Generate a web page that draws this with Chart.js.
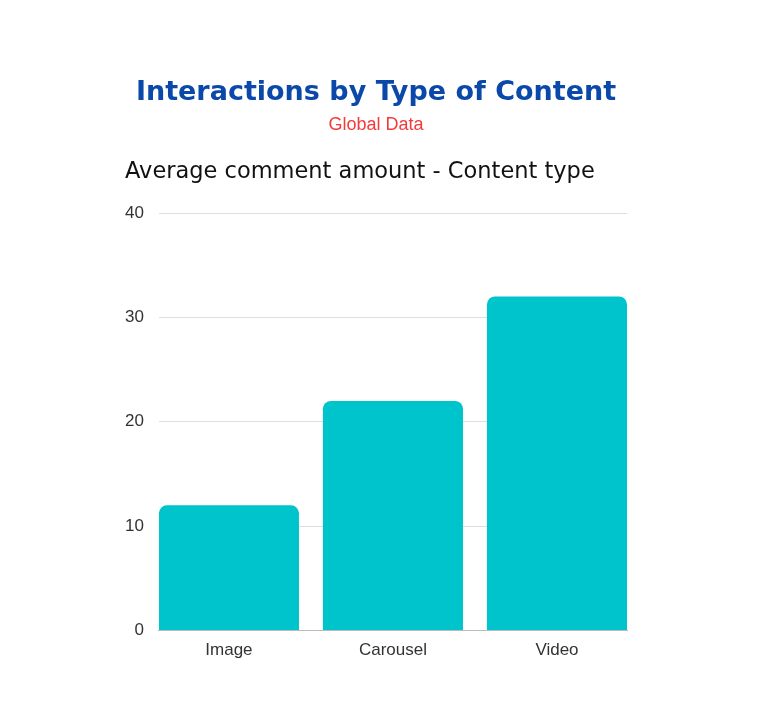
<!DOCTYPE html>
<html>
<head>
<meta charset="utf-8">
<script src="https://cdn.jsdelivr.net/npm/chart.js@4"></script>
<style>
  html, body { margin: 0; padding: 0; background: #fff; }
  #chart { display: block; }
</style>
</head>
<body>
<canvas id="chart" width="784" height="721"></canvas>
<script>
const categories = ['Image', 'Carousel', 'Video'];
const avgComments = [12, 22, 32];
const yTicks = [0, 10, 20, 30, 40];

const mainTitle = 'Interactions by Type of Content';
const subTitle = 'Global Data';
const chartHeading = 'Average comment amount - Content type';

// headings are drawn on the canvas above the plot
const headings = {
  id: 'headings',
  afterDraw(chart) {
    const ctx = chart.ctx;
    ctx.save();
    ctx.textBaseline = 'alphabetic';
    ctx.textAlign = 'center';
    ctx.fillStyle = '#0a48aa';
    ctx.font = 'bold 27px "DejaVu Sans"';
    ctx.fillText(mainTitle, 376, 100);
    ctx.fillStyle = '#f23b3b';
    ctx.font = '18px "Liberation Sans"';
    ctx.fillText(subTitle, 376, 130);
    ctx.textAlign = 'left';
    ctx.fillStyle = '#111';
    ctx.font = '22.5px "DejaVu Sans"';
    ctx.fillText(chartHeading, 125, 178);
    ctx.restore();
  }
};

// bars sit flush with the plot edges, so x is a linear scale over the category index
const points = categories.map((c, i) => ({ x: i, y: avgComments[i] }));

new Chart(document.getElementById('chart').getContext('2d'), {
  type: 'bar',
  data: {
    datasets: [{
      data: points,
      backgroundColor: '#00c4cc',
      borderRadius: 8,
      borderSkipped: 'start',
      barPercentage: 0.854,
      categoryPercentage: 1.0,
    }]
  },
  options: {
    responsive: false,
    animation: false,
    layout: { padding: { top: 213, bottom: 50, left: 110, right: 157 } },
    plugins: { legend: { display: false }, tooltip: { enabled: false } },
    scales: {
      x: {
        type: 'linear',
        offset: false,
        min: -0.427,
        max: 2.427,
        afterBuildTicks: axis => { axis.ticks = categories.map((c, i) => ({ value: i })); },
        grid: { display: false, drawTicks: false, offset: false },
        border: { display: true, color: '#bbbbbb' },
        ticks: {
          color: '#333',
          font: { family: 'Liberation Sans', size: 17 },
          padding: 10,
          callback: v => categories[v]
        }
      },
      y: {
        min: 0,
        max: 40,
        afterBuildTicks: axis => { axis.ticks = yTicks.map(v => ({ value: v })); },
        grid: { color: '#dddddd', drawTicks: false },
        border: { display: false },
        ticks: { color: '#333', font: { family: 'Liberation Sans', size: 17 }, padding: 15 }
      }
    }
  },
  plugins: [headings]
});
</script>
</body>
</html>
